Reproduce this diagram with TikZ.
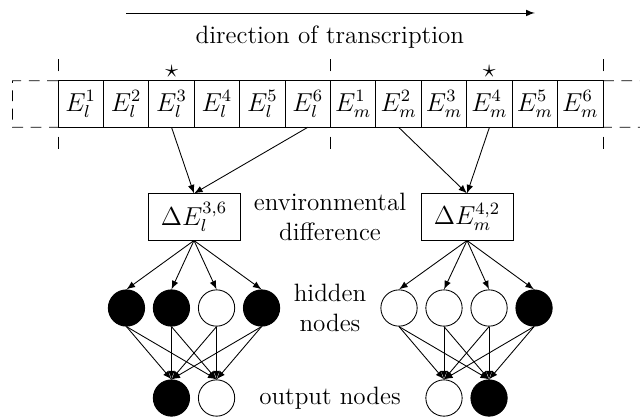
\documentclass[tikz,border=0pt]{standalone}
\begin{document}
\begin{tikzpicture}[>=latex,
    every node/.style={font=\fontsize{11.6}{14}\selectfont},
    seq node/.style={draw,minimum width=0.738cm,minimum height=0.757cm,inner sep=0pt,outer sep=0pt},
    diff node/.style={draw,minimum width=1.495cm,minimum height=0.75cm,inner sep=1pt},
    on node/.style={circle,draw,fill=black,minimum size=0.59cm},
    off node/.style={circle,draw,fill=white,minimum size=0.59cm},
    caption/.style={align=center}]
    \useasboundingbox (0,0) rectangle (10.4,-6.776);

    % direction arrow
    \coordinate (dir start) at (2.05,-0.211);
    \coordinate (dir end) at (8.69,-0.211);
    \draw[->] (dir start) -- (dir end);
    \node[caption] at (5.36,-0.6) (dir) {direction of transcription};

    % sequence windows
    \node[seq node] at (1.3115,-1.69) (l1) {$E_l^1$};
    \node[seq node] at (2.0495,-1.69) (l2) {$E_l^2$};
    \node[seq node] at (2.7875,-1.69) (l3) {$E_l^3$};
    \node[seq node] at (3.5255,-1.69) (l4) {$E_l^4$};
    \node[seq node] at (4.2635,-1.69) (l5) {$E_l^5$};
    \node[seq node] at (5.0015,-1.69) (l6) {$E_l^6$};
    \node[seq node] at (5.7395,-1.69) (m1) {$E_m^1$};
    \node[seq node] at (6.4775,-1.69) (m2) {$E_m^2$};
    \node[seq node] at (7.2155,-1.69) (m3) {$E_m^3$};
    \node[seq node] at (7.9535,-1.69) (m4) {$E_m^4$};
    \node[seq node] at (8.6915,-1.69) (m5) {$E_m^5$};
    \node[seq node] at (9.4295,-1.69) (m6) {$E_m^6$};

    \node at (2.79,-1.165) (star l) {$\star$};
    \node at (7.95,-1.165) (star m) {$\star$};

    % window borders
    \draw (l1.north west) ++(0,0.15) -- ++(0,0.2);
    \draw (l1.south west) ++(0,-0.15) -- ++(0,-0.2);
    \draw (m1.north west) ++(0,0.15) -- ++(0,0.2);
    \draw (m1.south west) ++(0,-0.15) -- ++(0,-0.2);
    \draw (m6.north east) ++(0,0.15) -- ++(0,0.2);
    \draw (m6.south east) ++(0,-0.15) -- ++(0,-0.2);

    \draw[dash pattern=on 5pt off 3.5pt] (l1.north west) -- ++(-0.74,0) -- ++(0,-0.757) -- (l1.south west);
    \draw[dash pattern=on 5pt off 3.5pt] (m6.north east) -- ++(0.74,0) -- ++(0,-0.757) -- (m6.south east);

    % differences
    \node[diff node] at (3.1525,-3.526) (dl) {$\Delta E_l^{3,6}$};
    \node[diff node] at (7.589,-3.526) (dm) {$\Delta E_m^{4,2}$};
    \node[caption] at (5.3625,-3.526) (env) {environmental\\difference};

    \path[->] (l3.south) edge (dl.north)
        (l6.south) edge (dl.north)
        (m2.south) edge (dm.north)
        (m4.south) edge (dm.north);

    % hidden nodes
    \node[on node] at (2.055,-5.005) (hl1) {};
    \node[on node] at (2.786,-5.005) (hl2) {};
    \node[off node] at (3.519,-5.005) (hl3) {};
    \node[on node] at (4.25,-5.005) (hl4) {};
    \node[off node] at (6.484,-5.005) (hm1) {};
    \node[off node] at (7.215,-5.005) (hm2) {};
    \node[off node] at (7.947,-5.005) (hm3) {};
    \node[on node] at (8.678,-5.005) (hm4) {};
    \node[caption] at (5.3625,-5.005) (hidden) {hidden\\nodes};

    % output nodes
    \node[on node] at (2.786,-6.4675) (ol1) {};
    \node[off node] at (3.519,-6.4675) (ol2) {};
    \node[off node] at (7.215,-6.4675) (om1) {};
    \node[on node] at (7.947,-6.4675) (om2) {};
    \node[caption] at (5.3625,-6.4675) (output) {output nodes};

    \path[->] (dl.south) edge (hl1.north)
        (dl.south) edge (hl2.north)
        (dl.south) edge (hl3.north)
        (dl.south) edge (hl4.north)
        (dm.south) edge (hm1.north)
        (dm.south) edge (hm2.north)
        (dm.south) edge (hm3.north)
        (dm.south) edge (hm4.north);

    \path[->] (hl1.south) edge (ol1.north) (hl1.south) edge (ol2.north)
        (hl2.south) edge (ol1.north) (hl2.south) edge (ol2.north)
        (hl3.south) edge (ol1.north) (hl3.south) edge (ol2.north)
        (hl4.south) edge (ol1.north) (hl4.south) edge (ol2.north)
        (hm1.south) edge (om1.north) (hm1.south) edge (om2.north)
        (hm2.south) edge (om1.north) (hm2.south) edge (om2.north)
        (hm3.south) edge (om1.north) (hm3.south) edge (om2.north)
        (hm4.south) edge (om1.north) (hm4.south) edge (om2.north);
\end{tikzpicture}
\end{document}
